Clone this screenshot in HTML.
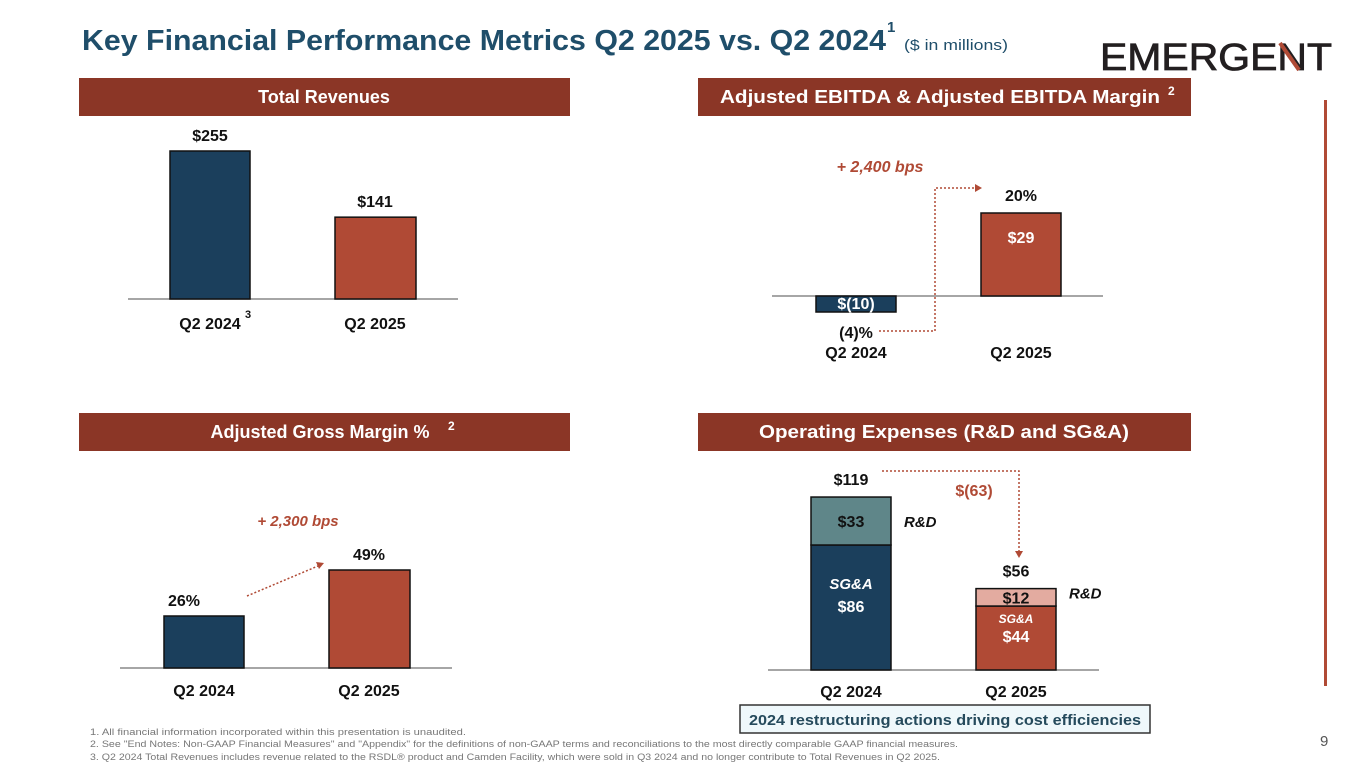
<!DOCTYPE html>
<html><head><meta charset="utf-8"><style>
html,body{margin:0;padding:0;background:#fff;width:1365px;height:768px;overflow:hidden}
svg{display:block;font-family:"Liberation Sans",sans-serif}
</style></head><body>
<svg id="s" width="1365" height="768" viewBox="0 0 1365 768">
<text x="82" y="50" font-size="29" font-weight="bold" fill="#1F4E6A" textLength="804" lengthAdjust="spacingAndGlyphs">Key Financial Performance Metrics Q2 2025 vs. Q2 2024</text>
<text x="887" y="32" font-size="15" font-weight="bold" fill="#1F4E6A">1</text>
<text x="904" y="50" font-size="15" fill="#1F4E6A" textLength="104" lengthAdjust="spacingAndGlyphs">($ in millions)</text>
<g>
<text x="1100" y="70" font-size="38" fill="#231F20" stroke="#231F20" stroke-width="0.8" textLength="232" lengthAdjust="spacingAndGlyphs">EMERGENT</text>
<line x1="1280" y1="43" x2="1299" y2="70" stroke="#B04A35" stroke-width="4"/>
</g>
<rect x="1324" y="100" width="3" height="586" fill="#B04A35"/>

<g><rect x="79" y="78" width="491" height="38" fill="#8B3626"/><text x="324" y="103" font-size="18" font-weight="bold" fill="#fff" text-anchor="middle">Total Revenues</text></g>
<g><rect x="698" y="78" width="493" height="38" fill="#8B3626"/><text x="940" y="103" font-size="18" font-weight="bold" fill="#fff" text-anchor="middle" textLength="440" lengthAdjust="spacingAndGlyphs">Adjusted EBITDA &amp; Adjusted EBITDA Margin</text><text x="1168" y="95" font-size="12" font-weight="bold" fill="#fff">2</text></g>
<g><rect x="79" y="413" width="491" height="38" fill="#8B3626"/><text x="320" y="438" font-size="18" font-weight="bold" fill="#fff" text-anchor="middle">Adjusted Gross Margin %</text><text x="448" y="430" font-size="12" font-weight="bold" fill="#fff">2</text></g>
<g><rect x="698" y="413" width="493" height="38" fill="#8B3626"/><text x="944" y="438" font-size="18" font-weight="bold" fill="#fff" text-anchor="middle" textLength="370" lengthAdjust="spacingAndGlyphs">Operating Expenses (R&amp;D and SG&amp;A)</text></g>

<g id="charts"></g>

<g><rect x="740" y="705" width="410" height="28" fill="#EFF8FB" stroke="#333" stroke-width="1.5"/><text x="945" y="725" font-size="15" font-weight="bold" fill="#254A5C" text-anchor="middle" textLength="392" lengthAdjust="spacingAndGlyphs">2024 restructuring actions driving cost efficiencies</text></g>

<g font-size="9" fill="#777">
<text x="90" y="735" textLength="376" lengthAdjust="spacingAndGlyphs">1.   All financial information incorporated within this presentation is unaudited.</text>
<text x="90" y="747" textLength="868" lengthAdjust="spacingAndGlyphs">2.   See "End Notes: Non-GAAP Financial Measures" and "Appendix" for the definitions of non-GAAP terms and reconciliations to the most directly comparable GAAP financial measures.</text>
<text x="90" y="760" textLength="850" lengthAdjust="spacingAndGlyphs">3.   Q2 2024 Total Revenues includes revenue related to the RSDL® product and Camden Facility, which were sold in Q3 2024 and no longer contribute to Total Revenues in Q2 2025.</text>
</g>
<text x="1320" y="746" font-size="15" fill="#555">9</text>
</svg>
<script>
const categories = ["Q2 2024", "Q2 2025"];
const revenues = [255, 141];
const ebitda = [-10, 29];
const ebitdaMargin = ["(4)%", "20%"];
const grossMargin = [26, 49];
const rdExpense = [33, 12];
const sgaExpense = [86, 44];

const NS = "http://www.w3.org/2000/svg";
const root = document.getElementById("charts");
function mk(tag, attrs, text) {
  const e = document.createElementNS(NS, tag);
  for (const k in attrs) e.setAttribute(k, attrs[k]);
  if (text !== undefined) e.textContent = text;
  root.appendChild(e);
  return e;
}
function txt(x, y, s, size, fill, extra) {
  const a = Object.assign({x: x, y: y, "font-size": size, "font-weight": "bold", fill: fill, "text-anchor": "middle"}, extra || {});
  return mk("text", a, s);
}
function axisLine(x1, x2, y, name) {
  const l = mk("line", {x1: x1, x2: x2, y1: y, y2: y, stroke: "#888", "stroke-width": 1.5});
  
  
}
function bar(x, y, w, h, fill, name) {
  const r = mk("rect", {x: x, y: y, width: w, height: Math.max(0, h), fill: fill, stroke: "#111", "stroke-width": 1.5});
  
  
  return r;
}
const barW = 80;
const NAVY = "#1B3F5C", RUST = "#B04A35";

// Total revenues
{
  const base = 299, sc = 148 / 255, xs = [170, 335];
  axisLine(128, 458, base, "revenue-axis");
  revenues.forEach((v, i) => {
    const h = v * sc;
    bar(xs[i], base - h, barW + (i ? 1 : 0), h, i ? RUST : NAVY, "revenue-bar-" + i);
    const t = txt(xs[i] + 40, base - h - 10, "$" + v, 16, "#111");
    
    
    const c = txt(xs[i] + 40, base + 30, categories[i], 16, "#111");
    
    
  });
  const f = mk("text", {x: 245, y: 318, "font-size": 11, "font-weight": "bold", fill: "#111"}, "3");
  
  
}

// Adjusted EBITDA
{
  const base = 296, scPos = 83 / 29, scNeg = 1.6, xs = [816, 981];
  axisLine(772, 1103, base, "ebitda-axis");
  ebitda.forEach((v, i) => {
    const h = v >= 0 ? v * scPos : -v * scNeg;
    const y = v >= 0 ? base - h : base;
    bar(xs[i], y, barW, h, i ? RUST : NAVY, "ebitda-bar-" + i);
    const lab = v < 0 ? "$(" + (-v) + ")" : "$" + v;
    const ly = v >= 0 ? y + 30 : base + 13;
    const t = txt(xs[i] + 40, ly, lab, 16, "#fff");
    
    
    const my = v >= 0 ? y - 12 : base + 42;
    const m = txt(xs[i] + 40, my, ebitdaMargin[i], 16, "#111");
    
    
    const c = txt(xs[i] + 40, 358, categories[i], 16, "#111");
    
    
  });
  const p = mk("polyline", {points: "879,331 935,331 935,188 975,188", fill: "none", stroke: RUST, "stroke-width": 1.5, "stroke-dasharray": "2,2"});
  
  
  const ah = mk("polygon", {points: "975,184 982,188 975,192", fill: RUST});
  
  
  const b = txt(880, 172, "+ 2,400 bps", 16, RUST, {"font-style": "italic"});
  
  
}

// Gross margin
{
  const base = 668, sc = 2.0, xs = [164, 329];
  axisLine(120, 452, base, "gross-margin-axis");
  grossMargin.forEach((v, i) => {
    const h = v * sc;
    bar(xs[i], base - h, barW + (i ? 1 : 0), h, i ? RUST : NAVY, "gross-margin-bar-" + i);
    const t = txt(xs[i] + 40 + (i ? 0 : -20), base - h - 10, v + "%", 16, "#111");
    
    
    const c = txt(xs[i] + 40, base + 28, categories[i], 16, "#111");
    
    
  });
  const l = mk("line", {x1: 247, y1: 596, x2: 318, y2: 566, stroke: RUST, "stroke-width": 1.5, "stroke-dasharray": "2,2"});
  
  
  const ah = mk("polygon", {points: "316,562 324,563 319,569", fill: RUST});
  
  
  const b = txt(298, 526, "+ 2,300 bps", 15, RUST, {"font-style": "italic"});
  
  
}

// Operating expenses
{
  const base = 670, sc = 125 / 86, xs = [811, 976];
  const sgaCol = [NAVY, RUST], rdCol = ["#5F8689", "#E3ABA0"];
  axisLine(768, 1099, base, "opex-axis");
  categories.forEach((cat, i) => {
    const hs = sgaExpense[i] * sc, hr = rdExpense[i] * sc;
    bar(xs[i], base - hs, barW, hs, sgaCol[i], "opex-sga-bar-" + i);
    bar(xs[i], base - hs - hr, barW, hr, rdCol[i], "opex-rd-bar-" + i);
    const top = base - hs - hr;
    const tot = txt(xs[i] + 40, top - 12, "$" + (sgaExpense[i] + rdExpense[i]), 16, "#111");
    
    
    const r = txt(xs[i] + 40, top + hr / 2 + 6, "$" + rdExpense[i], 16, "#111");
    
    
    const rl = mk("text", {x: xs[i] + 93, y: top + (i ? 10 : hr / 2 + 6), "font-size": 15, "font-weight": "bold", "font-style": "italic", fill: "#111"}, "R&D");
    
    
    const sy = base - hs;
    const s1 = txt(xs[i] + 40, sy + (i ? 17 : 44), "SG&A", i ? 12 : 15, "#fff", {"font-style": "italic"});
    
    
    const s2 = txt(xs[i] + 40, sy + (i ? 36 : 67), "$" + sgaExpense[i], 16, "#fff");
    
    
    const c = txt(xs[i] + 40, base + 27, cat, 16, "#111");
    
    
  });
  const p = mk("polyline", {points: "882,471 1019,471 1019,552", fill: "none", stroke: RUST, "stroke-width": 1.5, "stroke-dasharray": "2,2"});
  
  
  const ah = mk("polygon", {points: "1015,551 1023,551 1019,558", fill: RUST});
  
  
  const d = txt(974, 496, "$(" + ((sgaExpense[0] + rdExpense[0]) - (sgaExpense[1] + rdExpense[1])) + ")", 16, RUST);
  
  
}
</script>
</body></html>
